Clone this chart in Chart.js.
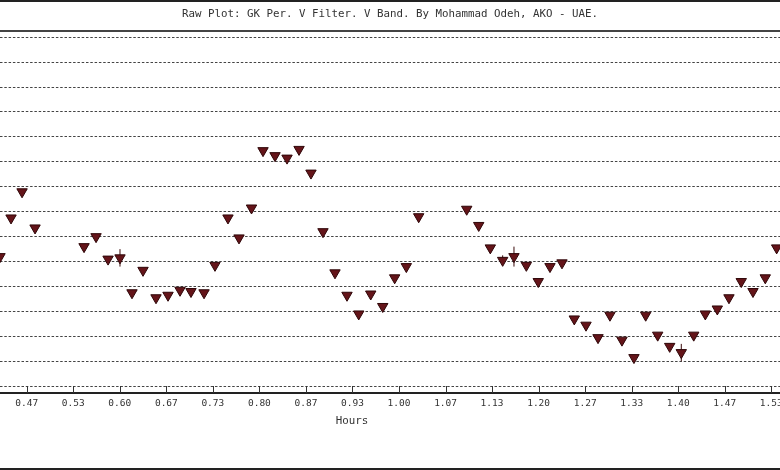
<!DOCTYPE html>
<html>
<head>
<meta charset="utf-8">
<script src="https://cdn.jsdelivr.net/npm/chart.js@4/dist/chart.umd.min.js"></script>
<style>
  html, body { margin: 0; padding: 0; background: #fff; }
  #wrap {
    width: 780px; height: 470px; box-sizing: border-box;
    border-top: 2px solid #222; border-bottom: 2px solid #222;
    position: relative;
  }
  #plot { display: block; }
</style>
</head>
<body>
<div id="wrap"><canvas id="plot" width="780" height="466"></canvas></div>
<script>
// time of each frame (hours) and raw V magnitude
const hours = [
  0.4284, 0.4442, 0.4600, 0.4786, 0.5488, 0.5660, 0.5832, 0.6003, 0.6175, 0.6333,
  0.6519, 0.6691, 0.6863, 0.7020, 0.7207, 0.7364, 0.7550, 0.7708, 0.7887, 0.8052,
  0.8224, 0.8396, 0.8568, 0.8739, 0.8911, 0.9083, 0.9255, 0.9423, 0.9595, 0.9767,
  0.9938, 1.0105, 1.0282, 1.0970, 1.1142, 1.1308, 1.1485, 1.1647, 1.1824, 1.1995,
  1.2163, 1.2335, 1.2511, 1.2679, 1.2851, 1.3022, 1.3194, 1.3366, 1.3534, 1.3706,
  1.3878, 1.4044, 1.4222, 1.4388, 1.4560, 1.4727, 1.4903, 1.5071, 1.5247, 1.5410
];
const mag = [
  13.176, 13.145, 13.124, 13.153, 13.168, 13.160, 13.178, 13.177, 13.205, 13.187,
  13.209, 13.207, 13.203, 13.204, 13.205, 13.183, 13.145, 13.161, 13.137, 13.091,
  13.095, 13.097, 13.090, 13.109, 13.156, 13.189, 13.207, 13.222, 13.206, 13.216,
  13.193, 13.184, 13.144, 13.138, 13.151, 13.169, 13.179, 13.176, 13.183, 13.196,
  13.184, 13.181, 13.226, 13.231, 13.241, 13.223, 13.243, 13.257, 13.223, 13.239,
  13.248, 13.253, 13.239, 13.222, 13.218, 13.209, 13.196, 13.204, 13.193, 13.169
];
// only a few frames show an error bar sticking out of the marker
const magErr = [
  0, 0, 0, 0, 0, 0, 0, 0.007, 0, 0,
  0, 0, 0, 0, 0, 0, 0, 0, 0, 0,
  0, 0, 0, 0, 0, 0, 0, 0, 0, 0,
  0, 0, 0, 0, 0, 0, 0.004, 0.008, 0, 0,
  0, 0, 0, 0, 0, 0, 0, 0, 0, 0,
  0, 0.007, 0, 0, 0, 0, 0, 0, 0, 0
];

const xTicks = [0.4667, 0.5333, 0.6, 0.6667, 0.7333, 0.8, 0.8667, 0.9333, 1.0,
  1.0667, 1.1333, 1.2, 1.2667, 1.3333, 1.4, 1.4667, 1.5333];
const xTickLabels = ['0.47', '0.53', '0.60', '0.67', '0.73', '0.80', '0.87', '0.93', '1.00',
  '1.07', '1.13', '1.20', '1.27', '1.33', '1.40', '1.47', '1.53'];
const yTicks = [13.00, 13.02, 13.04, 13.06, 13.08, 13.10, 13.12, 13.14,
  13.16, 13.18, 13.20, 13.22, 13.24, 13.26, 13.28];

const MONO = "'DejaVu Sans Mono', 'Liberation Mono', monospace";
const TEXT = '#333';

// frame line on top of the plot, small inward ticks and the "Hours" label
const framePlugin = {
  id: 'frame',
  beforeDatasetsDraw(chart) {
    const { ctx } = chart;
    const xs = chart.scales.x, ys = chart.scales.y;
    ctx.save();
    ctx.strokeStyle = '#3a0a0a';
    ctx.lineWidth = 1;
    hours.forEach((h, i) => {
      if (!magErr[i]) return;
      const px = xs.getPixelForValue(h);
      ctx.beginPath();
      ctx.moveTo(px, ys.getPixelForValue(mag[i] - magErr[i]));
      ctx.lineTo(px, ys.getPixelForValue(mag[i] + magErr[i]));
      ctx.stroke();
    });
    ctx.restore();
  },
  afterDraw(chart) {
    const { ctx, chartArea } = chart;
    const xs = chart.scales.x;
    ctx.save();
    ctx.strokeStyle = '#444';
    ctx.lineWidth = 2;
    ctx.beginPath();
    ctx.moveTo(0, chartArea.top);
    ctx.lineTo(chart.width, chartArea.top);
    ctx.stroke();

    ctx.strokeStyle = TEXT;
    ctx.lineWidth = 1;
    xTicks.forEach(v => {
      const px = Math.round(xs.getPixelForValue(v)) + 0.5;
      ctx.beginPath();
      ctx.moveTo(px, chartArea.bottom - 7);
      ctx.lineTo(px, chartArea.bottom);
      ctx.stroke();
    });

    ctx.fillStyle = TEXT;
    ctx.font = '10.8px ' + MONO;
    ctx.textAlign = 'center';
    ctx.textBaseline = 'middle';
    ctx.fillText('Hours', xs.getPixelForValue(0.9327), chartArea.bottom + 28.5);
    ctx.restore();
  }
};

new Chart(document.getElementById('plot'), {
  type: 'scatter',
  data: {
    datasets: [{
      label: 'V',
      data: hours.map((h, i) => ({ x: h, y: mag[i] })),
      pointStyle: 'triangle',
      rotation: 180,
      pointRadius: 6,
      pointHoverRadius: 6,
      backgroundColor: '#641419',
      borderColor: '#2e0608',
      borderWidth: 1
    }]
  },
  options: {
    responsive: false,
    animation: false,
    devicePixelRatio: 1,
    layout: { padding: 0, autoPadding: false },
    plugins: {
      legend: { display: false },
      tooltip: { enabled: false },
      title: {
        display: true,
        text: 'Raw Plot: GK Per. V Filter. V Band. By Mohammad Odeh, AKO - UAE.',
        color: TEXT,
        font: { family: MONO, size: 10.8, weight: 'normal' },
        padding: { top: 6, bottom: 10 }
      }
    },
    scales: {
      x: {
        type: 'linear',
        min: 0.4284,
        max: 1.5458,
        afterBuildTicks(scale) {
          scale.ticks = xTicks.map(v => ({ value: v }));
        },
        afterFit(scale) {
          scale.height = 75;
          scale.paddingLeft = 0;
          scale.paddingRight = 0;
        },
        ticks: {
          autoSkip: false,
          maxRotation: 0,
          padding: 5,
          color: TEXT,
          font: { family: MONO, size: 9.5 },
          callback: (v, i) => xTickLabels[i]
        },
        grid: { display: true, drawOnChartArea: false, drawTicks: false },
        border: { display: true, color: '#222', width: 2 }
      },
      y: {
        type: 'linear',
        reverse: true,
        min: 12.995,
        max: 13.2854,
        afterBuildTicks(scale) {
          scale.ticks = yTicks.map(v => ({ value: v }));
        },
        afterFit(scale) {
          scale.width = 0;
        },
        ticks: { display: false },
        grid: {
          color: '#444',
          lineWidth: 1,
          drawTicks: false
        },
        border: { display: false, dash: [2.5, 1.8] }
      }
    }
  },
  plugins: [framePlugin]
});
</script>
</body>
</html>
